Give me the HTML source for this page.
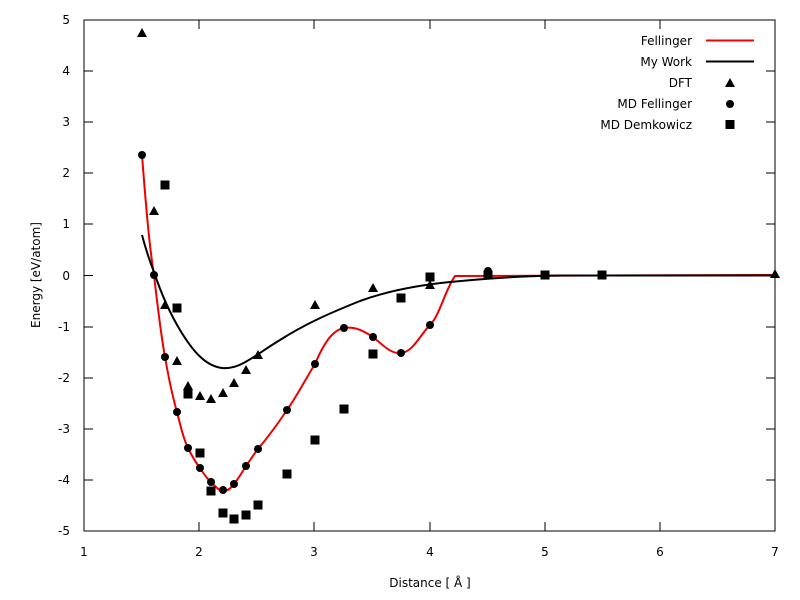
<!DOCTYPE html>
<html><head><meta charset="utf-8"><style>body{margin:0;background:#fff}svg{display:block}text{font-family:"DejaVu Sans","Liberation Sans",sans-serif;font-size:12px;fill:#000}</style></head><body>
<svg width="800" height="600" viewBox="0 0 800 600">
<defs>
<path id="t" d="M0,-5 L5,4 L-5,4 Z"/>
</defs>
<rect x="84" y="20" width="691" height="511" fill="none" stroke="#000" stroke-width="1"/>
<g stroke="#000" stroke-width="1">
<path d="M84,20v9M199,20v9M314,20v9M430,20v9M545,20v9M660,20v9M775,20v9
M84,531v-9M199,531v-9M314,531v-9M430,531v-9M545,531v-9M660,531v-9M775,531v-9
M84,20h9M84,71h9M84,122h9M84,173h9M84,224h9M84,275.5h9M84,327h9M84,378h9M84,429h9M84,480h9M84,531h9
M775,20h-9M775,71h-9M775,122h-9M775,173h-9M775,224h-9M775,275.5h-9M775,327h-9M775,378h-9M775,429h-9M775,480h-9M775,531h-9"/>
</g>
<g text-anchor="middle">
<text x="84" y="556">1</text><text x="199" y="556">2</text><text x="314" y="556">3</text><text x="430" y="556">4</text><text x="545" y="556">5</text><text x="660" y="556">6</text><text x="775" y="556">7</text>
<text x="430" y="587">Distance [ Å ]</text>
</g>
<g text-anchor="end">
<text x="70" y="24">5</text><text x="70" y="75">4</text><text x="70" y="126">3</text><text x="70" y="177">2</text><text x="70" y="228">1</text><text x="70" y="280">0</text><text x="70" y="331">-1</text><text x="70" y="382">-2</text><text x="70" y="433">-3</text><text x="70" y="484">-4</text><text x="70" y="535">-5</text>
</g>
<text transform="translate(40,275) rotate(-90)" text-anchor="middle">Energy [eV/atom]</text>
<path fill="none" stroke="#e00" stroke-width="2" d="M142,155 C147,220 150,250 154,275 C158,310 161,335 165,357 C169,380 173,398 177,412 C181,428 184,440 188,448 C193,458 196,463 200,468 C204,474 207,479 211,482 C215,486 219,491 223,491 C228,491 231,488 234,484 C239,478 242,472 246,466 C251,459 254,454 258,449 C268,437 277,425 287,410 C297,396 305,380 315,364 C323,345 332,330 344,328 C356,326 365,332 373,337 C384,346 391,354 401,353 C413,352 420,335 430,325 C440,315 445,290 455,276 L775,275"/>
<path fill="none" stroke="#000" stroke-width="2" d="M142,235 C146,250 150,262 154,272 C160,290 168,310 180,330 C192,350 205,366 222,368 C240,370 255,355 280,340 C305,324 330,313 360,301 C390,290 420,285 450,282 C490,278 520,276 560,275.5 L775,275.5"/>
<g fill="#000">
<use href="#t" x="142" y="33"/><use href="#t" x="154" y="211"/><use href="#t" x="165" y="305"/><use href="#t" x="177" y="361"/><use href="#t" x="188" y="386"/><use href="#t" x="200" y="396"/><use href="#t" x="211" y="399"/><use href="#t" x="223" y="393"/><use href="#t" x="234" y="383"/><use href="#t" x="246" y="370"/><use href="#t" x="258" y="355"/><use href="#t" x="315" y="305"/><use href="#t" x="373" y="288"/><use href="#t" x="430" y="285"/><use href="#t" x="488" y="273"/><use href="#t" x="775" y="274"/>
<circle cx="142" cy="155" r="4"/><circle cx="154" cy="275" r="4"/><circle cx="165" cy="357" r="4"/><circle cx="177" cy="412" r="4"/><circle cx="188" cy="448" r="4"/><circle cx="200" cy="468" r="4"/><circle cx="211" cy="482" r="4"/><circle cx="223" cy="490" r="4"/><circle cx="234" cy="484" r="4"/><circle cx="246" cy="466" r="4"/><circle cx="258" cy="449" r="4"/><circle cx="287" cy="410" r="4"/><circle cx="315" cy="364" r="4"/><circle cx="344" cy="328" r="4"/><circle cx="373" cy="337" r="4"/><circle cx="401" cy="353" r="4"/><circle cx="430" cy="325" r="4"/><circle cx="488" cy="271" r="4"/><circle cx="545" cy="275" r="4"/>
<g transform="translate(-4.5,-4.5)">
<rect x="165" y="185" width="9" height="9"/><rect x="177" y="308" width="9" height="9"/><rect x="188" y="394" width="9" height="9"/><rect x="200" y="453" width="9" height="9"/><rect x="211" y="491" width="9" height="9"/><rect x="223" y="513" width="9" height="9"/><rect x="234" y="519" width="9" height="9"/><rect x="246" y="515" width="9" height="9"/><rect x="258" y="505" width="9" height="9"/><rect x="287" y="474" width="9" height="9"/><rect x="315" y="440" width="9" height="9"/><rect x="344" y="409" width="9" height="9"/><rect x="373" y="354" width="9" height="9"/><rect x="401" y="298" width="9" height="9"/><rect x="430" y="277" width="9" height="9"/><rect x="488" y="275" width="9" height="9"/><rect x="545" y="275" width="9" height="9"/><rect x="602" y="275" width="9" height="9"/>
</g>
</g>
<g text-anchor="end">
<text x="692" y="45">Fellinger</text><text x="692" y="66">My Work</text><text x="692" y="87">DFT</text><text x="692" y="108">MD Fellinger</text><text x="692" y="129">MD Demkowicz</text>
</g>
<path d="M706,40.5h48" stroke="#e00" stroke-width="2"/>
<path d="M706,61.5h48" stroke="#000" stroke-width="2"/>
<use href="#t" x="730" y="83"/>
<circle cx="730" cy="104" r="4"/>
<rect x="725.5" y="120" width="9" height="9"/>
</svg>
</body></html>
